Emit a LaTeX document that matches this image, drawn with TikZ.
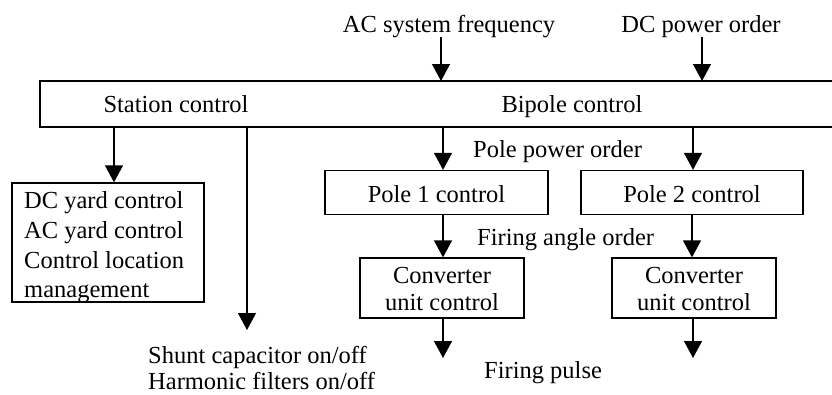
\documentclass[tikz,border=0pt]{standalone}
\usepackage{fontspec}
\setmainfont{Liberation Serif}
\usetikzlibrary{arrows.meta}
\begin{document}
\begin{tikzpicture}[x=1pt,y=-1pt,
  every node/.style={font=\fontsize{24.5}{29}\selectfont, inner sep=0pt},
  blk/.style={draw, line width=1.3pt},
  arr/.style={line width=1.3pt, -{Triangle[length=17pt,width=18pt]}},
  lbl/.style={anchor=base west},
  ctr/.style={anchor=base}]
\useasboundingbox (0,0) rectangle (832,394);
\clip (0,0) rectangle (832,394);
% big box (open to the right)
\draw[blk] (840,81) -- (40,81) -- (40,127) -- (840,127);
\node (station) [ctr] at (176,112) {Station control};
\node (bipole) [ctr] at (572,112) {Bipole control};
% inputs
\node (acf) [ctr] at (449,32) {AC system frequency};
\node (dcp) [ctr] at (701,32) {DC power order};
\coordinate (acfB) at (441,37);
\coordinate (dcpB) at (702,37);
\coordinate (acfT) at (441,81);
\coordinate (dcpT) at (702,81);
\draw[arr] (acfB) -- (acfT);
\draw[arr] (dcpB) -- (dcpT);
% DC yard box
\node[blk, minimum width=192pt, minimum height=119pt] (yard) at (108,242.5) {};
\node[lbl] (y1) at (24,208) {DC yard control};
\node[lbl] (y2) at (24,238) {AC yard control};
\node[lbl] (y3) at (24,268) {Control location};
\node[lbl] (y4) at (24,297) {management};
\coordinate (stA) at (114,127);
\draw[arr] (stA) -- (yard.north -| stA);
% shunt
\coordinate (shA) at (247,127);
\coordinate (shuntE) at (247,330);
\draw[arr] (shA) -- (shuntE);
\node[lbl] (sh1) at (148,363) {Shunt capacitor on/off};
\node[lbl] (sh2) at (148,389) {Harmonic filters on/off};
% pole boxes
\node[blk, minimum width=223pt, minimum height=44pt] (p1) at (436.5,192.5) {};
\node[blk, minimum width=222pt, minimum height=44pt] (p2) at (692,192.5) {};
\node[ctr] (p1t) at (436.5,202) {Pole 1 control};
\node[ctr] (p2t) at (692,202) {Pole 2 control};
\coordinate (bp1) at (443,127);
\coordinate (bp2) at (693,127);
\draw[arr] (bp1) -- (p1.north -| bp1);
\draw[arr] (bp2) -- (p2.north -| bp2);
\node[lbl] (ppo) at (473,157) {Pole power order};
% converter boxes
\node[blk, minimum width=164pt, minimum height=60pt] (c1) at (442,288) {};
\node[blk, minimum width=164pt, minimum height=60pt] (c2) at (694,288) {};
\node[ctr] (c1a) at (442,283) {Converter};
\node[ctr] (c1b) at (442,310) {unit control};
\node[ctr] (c2a) at (694,283) {Converter};
\node[ctr] (c2b) at (694,310) {unit control};
\coordinate (f1) at (443,0);
\coordinate (f2) at (692,0);
\draw[arr] (p1.south -| f1) -- (c1.north -| f1);
\draw[arr] (p2.south -| f2) -- (c2.north -| f2);
\node[lbl] (fao) at (477,245) {Firing angle order};
% outputs
\coordinate (o1) at (443,358);
\coordinate (o2) at (693,358);
\draw[arr] (c1.south -| o1) -- (o1);
\draw[arr] (c2.south -| o2) -- (o2);
\node[lbl] (fp) at (484,378) {Firing pulse};
\end{tikzpicture}
\end{document}
